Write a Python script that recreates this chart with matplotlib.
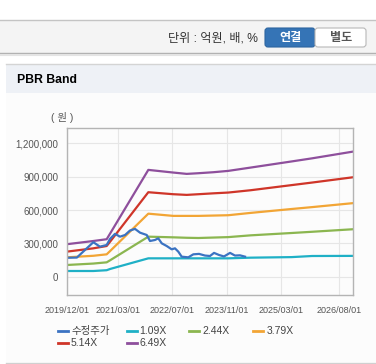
import matplotlib
matplotlib.use('Agg')
import matplotlib.pyplot as plt
from matplotlib.patches import Rectangle, FancyBboxPatch
from matplotlib.lines import Line2D
from matplotlib.ticker import FuncFormatter
import pandas as pd

plt.rcParams['font.family'] = ['Liberation Sans', 'Noto Sans CJK KR', 'DejaVu Sans']

# ---- data (won) ----
band_dates = ['2019-12-01', '2020-07-26', '2020-11-22', '2020-12-22', '2021-11-29',
              '2022-07-10', '2022-11-07', '2023-02-19', '2023-07-03', '2023-11-13',
              '2024-06-01', '2025-06-01', '2025-12-01', '2026-12-04']
band_109 = [51000, 51000, 58000, 69000, 165000, 165000, 165000, 165000, 165000, 165000,
            171000, 176000, 186000, 187000]
band_244 = [105000, 118000, 129000, 147000, 360000, 354000, 350000, 348000, 352000, 356000,
            372000, 393000, 404000, 427000]
band_379 = [174000, 188000, 201000, 230000, 567000, 547000, 547000, 547000, 550000, 553000,
            574000, 609000, 626000, 662000]
band_514 = [225000, 255000, 276000, 314000, 760000, 742000, 736000, 742000, 750000, 757000,
            778000, 824000, 847000, 895000]
band_649 = [292000, 321000, 337000, 387000, 961000, 937000, 925000, 931000, 940000, 952000,
            982000, 1037000, 1065000, 1126000]

price_dates = ['2019-12-01', '2020-03-01', '2020-05-12', '2020-07-26', '2020-09-23',
               '2020-11-22', '2020-12-22', '2021-02-04', '2021-03-21', '2021-05-05',
               '2021-06-18', '2021-08-02', '2021-09-16', '2021-11-15', '2021-12-14',
               '2022-01-27', '2022-02-26', '2022-03-29', '2022-05-12', '2022-06-26',
               '2022-07-25', '2022-08-24', '2022-09-23', '2022-11-21', '2023-01-05',
               '2023-02-25', '2023-04-19', '2023-06-03', '2023-07-09', '2023-08-23',
               '2023-10-06', '2023-11-29', '2024-01-12', '2024-02-26', '2024-04-11']
price = [170000, 172000, 240000, 310000, 270000, 285000, 340000, 385000, 360000, 375000,
         415000, 430000, 396000, 375000, 321000, 330000, 345000, 300000, 276000, 246000,
         255000, 225000, 180000, 174000, 201000, 205000, 190000, 186000, 214000, 195000,
         182000, 214000, 190000, 192000, 180000]

series_names = ['수정주가', '1.09X', '2.44X', '3.79X', '5.14X', '6.49X']
series_colors = ['#3b73c2', '#1fb0c6', '#8bb650', '#f2a535', '#cf3529', '#8e4f9c']

tick_dates = ['2019/12/01', '2021/03/01', '2022/07/01', '2023/11/01', '2025/03/01', '2026/08/01']
y_ticks = [0, 300000, 600000, 900000, 1200000]

W, H = 376, 364
fig = plt.figure(figsize=(W / 100, H / 100), dpi=100)
fig.patch.set_facecolor('white')


def rect(x0, y0, x1, y1, **kw):
    fig.add_artist(Rectangle((x0 / W, 1 - y1 / H), (x1 - x0) / W, (y1 - y0) / H,
                             transform=fig.transFigure, zorder=-5, **kw))


def hline(x0, x1, y, color, lw=1.0):
    fig.add_artist(Line2D([x0 / W, x1 / W], [1 - y / H, 1 - y / H], color=color, lw=lw,
                          transform=fig.transFigure, zorder=-4))


# top bar
rect(0, 20, W, 53, facecolor='#f4f4f4', edgecolor='none')
hline(0, W, 20, '#c4c4c4')
hline(0, W, 53, '#b0b0b0', 1.0)
hline(0, W, 54.5, '#e4e4e4', 1.5)
fig.text(258 / W, 1 - 38.5 / H, '단위 : 억원, 배, %', ha='right', va='center',
         fontsize=8.7, color='#333333')
fig.add_artist(FancyBboxPatch((265 / W, 1 - 47 / H), 50 / W, 19 / H,
                              boxstyle='round,pad=0,rounding_size=0.008',
                              transform=fig.transFigure, facecolor='#3574b6',
                              edgecolor='#2d65a0', lw=0.8))
fig.add_artist(FancyBboxPatch((315 / W, 1 - 47 / H), 51 / W, 19 / H,
                              boxstyle='round,pad=0,rounding_size=0.008',
                              transform=fig.transFigure, facecolor='white',
                              edgecolor='#b8b8b8', lw=0.8))
fig.text(290 / W, 1 - 38 / H, '연결', ha='center', va='center', fontsize=8.7,
         color='white', fontweight='bold')
fig.text(341 / W, 1 - 38 / H, '별도', ha='center', va='center', fontsize=8.7,
         color='#555555', fontweight='bold')

# section panel
rect(6, 64, W, 93, facecolor='#eef1f6', edgecolor='none')
rect(6, 93, W, 362, facecolor='#fcfcfc', edgecolor='none')
hline(6, W, 64, '#d4d4d4')
hline(6, W, 363, '#d0d0d0')
fig.text(17 / W, 1 - 80 / H, 'PBR Band', ha='left', va='center', fontsize=8.8,
         fontweight='bold', color='black')
fig.text(62 / W, 1 - 118 / H, '( 원 )', ha='center', va='center', fontsize=7.5,
         color='#555555')

# chart
ax = fig.add_axes([66.7 / W, 1 - 295 / H, (353.3 - 66.7) / W, (295 - 128) / H])
ax.set_zorder(5)
ax.set_facecolor('#fcfcfc')
bd = pd.to_datetime(band_dates)
pd_ = pd.to_datetime(price_dates)
bands = [band_109, band_244, band_379, band_514, band_649]
for vals, c in zip(bands, series_colors[1:]):
    ax.plot(bd, vals, color=c, lw=1.6, solid_capstyle='butt')
ax.plot(pd_, price, color=series_colors[0], lw=1.6)

ax.set_xlim(pd.Timestamp('2019-12-01'), pd.Timestamp('2026-12-04'))
ax.set_ylim(-165000, 1338000)
ax.set_xticks(pd.to_datetime(tick_dates, format='%Y/%m/%d'))
ax.set_xticklabels(tick_dates)
ax.set_yticks(y_ticks)
ax.yaxis.set_major_formatter(FuncFormatter(lambda v, p: f'{int(v):,}'))
ax.tick_params(length=0, labelsize=6.5, colors='#555555', pad=6)
ax.tick_params(axis='y', labelsize=7)
ax.tick_params(axis='x', pad=8)
ax.grid(True, color='#e6e6e6', lw=0.8)
ax.set_axisbelow(True)
for s in ax.spines.values():
    s.set_color('#b4b4b4')
    s.set_linewidth(1.0)

# legend
leg_pos = [(58, 330.7), (126.7, 330.7), (189.3, 330.7), (253.3, 330.7),
           (58, 343.3), (126.7, 343.3)]
for name, c, (lx, ly) in zip(series_names, series_colors, leg_pos):
    fig.add_artist(Line2D([lx / W, (lx + 10) / W], [1 - ly / H, 1 - ly / H], color=c,
                          lw=2, transform=fig.transFigure))
    fig.text((lx + 13) / W, 1 - ly / H, name, ha='left', va='center', fontsize=7.5,
             color='#444444')

fig.savefig('out.png', dpi=100)
